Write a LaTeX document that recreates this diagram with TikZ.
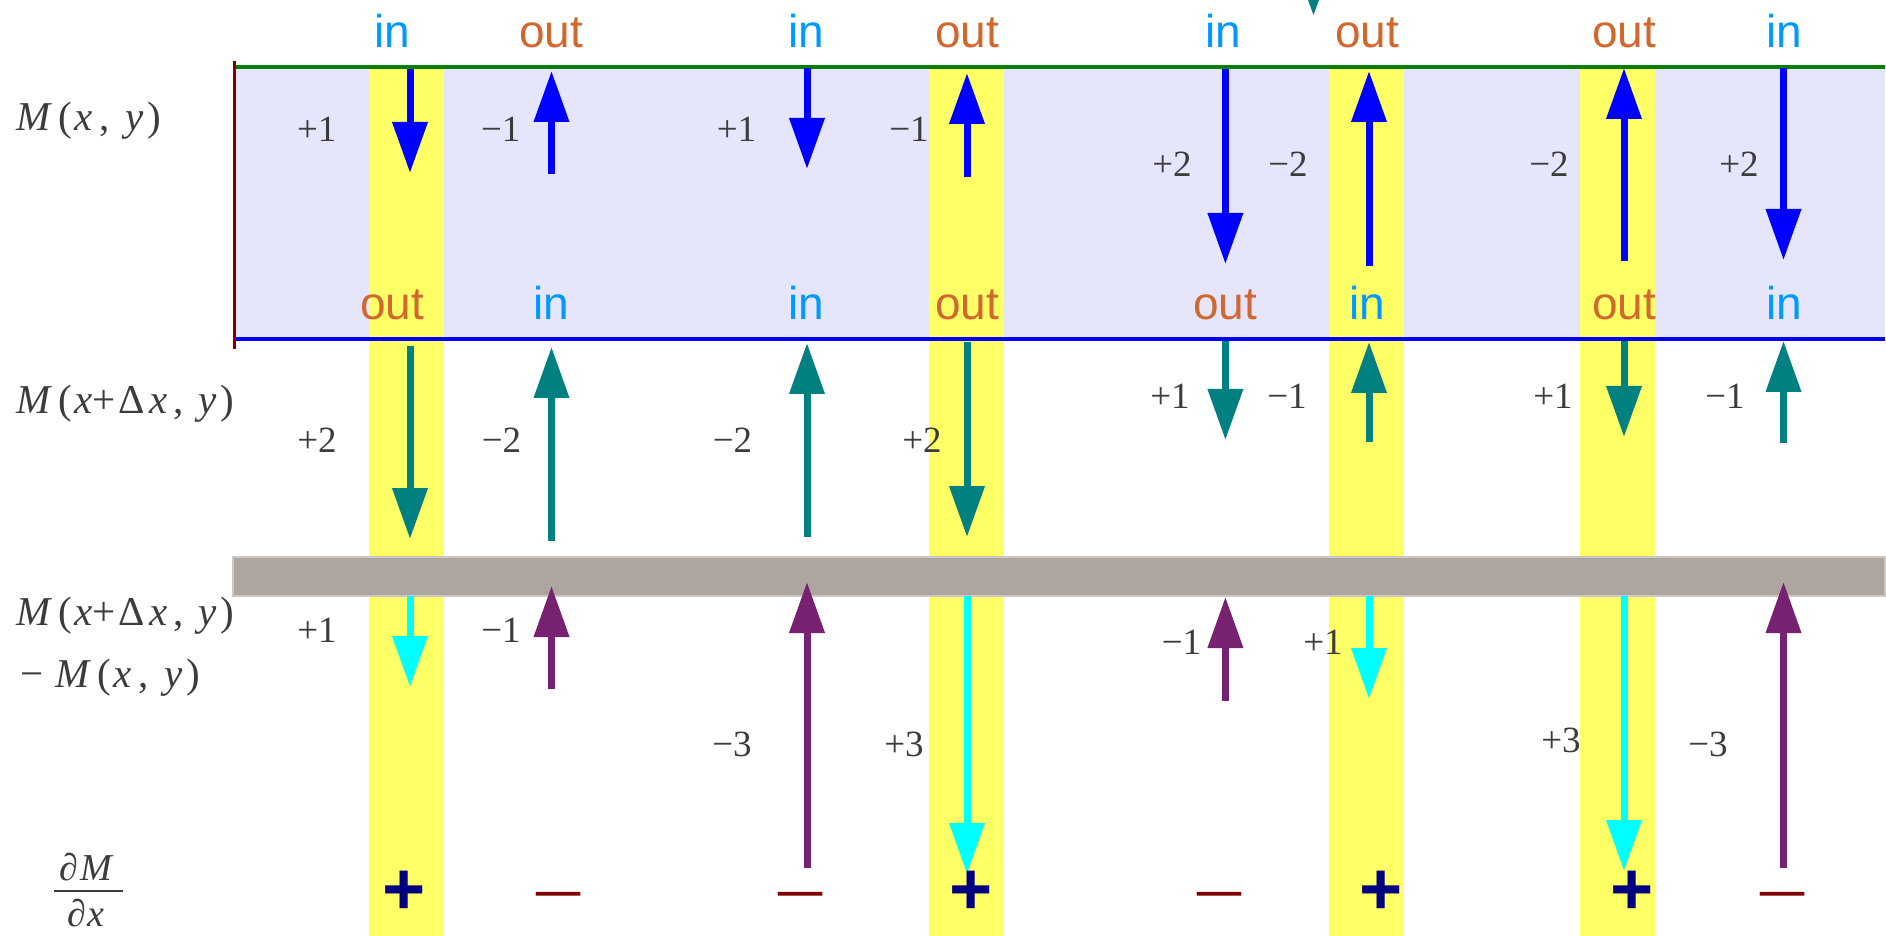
\documentclass[tikz,border=0pt]{standalone}
\usepackage{graphicx}
\usepackage{fontspec}
\setmainfont{Liberation Serif}
\newfontfamily\lsans{Liberation Sans}
\newfontfamily\lserif{Liberation Serif}
\usetikzlibrary{arrows.meta}
\definecolor{lav}{HTML}{E5E5FC}
\definecolor{yel}{HTML}{FFFF66}
\definecolor{inc}{HTML}{0099FF}
\definecolor{outc}{HTML}{D06830}
\definecolor{tealc}{HTML}{008080}
\definecolor{cyanc}{HTML}{00FFFF}
\definecolor{bluec}{HTML}{0000FF}
\definecolor{purp}{HTML}{772270}
\definecolor{grayband}{HTML}{ADA6A0}
\definecolor{grayedge}{HTML}{CDC8C3}
\definecolor{txt}{HTML}{3C3C3C}
\definecolor{navyc}{HTML}{000080}
\definecolor{maroonc}{HTML}{800000}
\definecolor{greenc}{HTML}{008000}
\begin{document}
\begin{tikzpicture}[x=0.5pt,y=-0.5pt,
  arr/.style={line width=3.5pt,-{Triangle[length=25.5pt,width=17pt]}},
  barr/.style={arr,color=bluec},
  tarr/.style={arr,color=tealc},
  carr/.style={arr,color=cyanc},
  parr/.style={arr,color=purp},
  inl/.style={inner sep=0pt,anchor=base,text=inc,font=\lsans\fontsize{23}{23}\selectfont},
  outl/.style={inner sep=0pt,anchor=base,text=outc,font=\lsans\fontsize{23}{23}\selectfont},
  num/.style={inner sep=0pt,text=txt,font=\lserif\fontsize{18.5}{18.5}\selectfont},
  lab/.style={inner sep=0pt,anchor=base west,text=txt,font=\lserif\fontsize{20.5}{20.5}\selectfont},
  fracl/.style={inner sep=0pt,anchor=base,text=txt,font=\lserif\fontsize{19}{19}\selectfont},
  plussign/.style={inner sep=0pt,text=navyc,font=\lsans\bfseries\fontsize{37}{37}\selectfont},
  minussign/.style={inner sep=0pt,anchor=base,text=maroonc,font=\lserif\fontsize{38}{38}\selectfont},
]
\useasboundingbox (0,0) rectangle (1886,936);
\fill[white] (0,0) rectangle (1886,936);
% lavender region
\fill[lav] (235,68) rectangle (1885,339);
% yellow bands
\foreach \a/\b in {369/444, 929/1004, 1329/1404, 1580/1654.5}
  \fill[yel] (\a,69) rectangle (\b,936);
% lines
\coordinate (gl) at (235,67.5); \coordinate (gr) at (1885,67.5);
\coordinate (bl) at (235,339.3); \coordinate (br) at (1885,339.3);
\coordinate (rt) at (234.4,61); \coordinate (rb) at (234.4,349);
\draw[greenc,line width=2pt] (gl) -- (gr);
\draw[bluec,line width=2pt] (bl) -- (br);
\draw[maroonc,line width=1.75pt] (rt) -- (rb);
% gray band
\fill[grayband,draw=grayedge,line width=0.6pt] (233,557) rectangle (1885,596);
% partial teal tip at top
\fill[tealc] (1308,0) -- (1319,0) -- (1313.5,15) -- cycle;

% ---- blue arrows (top band)
\coordinate (a1s) at (410,69);    \coordinate (a1e) at (410,173);
\coordinate (a2s) at (551.5,174); \coordinate (a2e) at (551.5,71);
\coordinate (a3s) at (807,68);    \coordinate (a3e) at (807,169);
\coordinate (a4s) at (967,177);   \coordinate (a4e) at (967,73);
\coordinate (a5s) at (1225.4,69); \coordinate (a5e) at (1225.4,264);
\coordinate (a6s) at (1369,266);  \coordinate (a6e) at (1369,71);
\coordinate (a7s) at (1624,261);  \coordinate (a7e) at (1624,68);
\coordinate (a8s) at (1783.5,68); \coordinate (a8e) at (1783.5,260);
\foreach \i in {1,...,8} \draw[barr] (a\i s) -- (a\i e);

% ---- teal arrows (middle)
\coordinate (b1s) at (410,346);    \coordinate (b1e) at (410,539);
\coordinate (b2s) at (551.5,541);  \coordinate (b2e) at (551.5,347);
\coordinate (b3s) at (807,537);    \coordinate (b3e) at (807,343);
\coordinate (b4s) at (967,342);    \coordinate (b4e) at (967,537);
\coordinate (b5s) at (1225.4,341); \coordinate (b5e) at (1225.4,440);
\coordinate (b6s) at (1369,442);   \coordinate (b6e) at (1369,342);
\coordinate (b7s) at (1624,341);   \coordinate (b7e) at (1624,437);
\coordinate (b8s) at (1783.5,443); \coordinate (b8e) at (1783.5,341);
\foreach \i in {1,...,8} \draw[tarr] (b\i s) -- (b\i e);

% ---- bottom arrows
\coordinate (c1s) at (410,596);    \coordinate (c1e) at (410,687);
\coordinate (c2s) at (551.5,689);  \coordinate (c2e) at (551.5,586);
\coordinate (c3s) at (807,868);    \coordinate (c3e) at (807,582);
\coordinate (c4s) at (967,596);    \coordinate (c4e) at (967,874);
\coordinate (c5s) at (1225.4,701); \coordinate (c5e) at (1225.4,597);
\coordinate (c6s) at (1369,596);   \coordinate (c6e) at (1369,699);
\coordinate (c7s) at (1624,596);   \coordinate (c7e) at (1624,871);
\coordinate (c8s) at (1783.5,868); \coordinate (c8e) at (1783.5,582);
\foreach \i in {1,4,6,7} \draw[carr] (c\i s) -- (c\i e);
\foreach \i in {2,3,5,8} \draw[parr] (c\i s) -- (c\i e);

% ---- in / out labels, top row
\node[inl]  (t1) at (392,48)  {in};
\node[outl] (t2) at (551,48)  {out};
\node[inl]  (t3) at (806,48)  {in};
\node[outl] (t4) at (967,48)  {out};
\node[inl]  (t5) at (1223,48) {in};
\node[outl] (t6) at (1367,48) {out};
\node[outl] (t7) at (1624,48) {out};
\node[inl]  (t8) at (1784,48) {in};
% second row
\node[outl] (u1) at (392,320)  {out};
\node[inl]  (u2) at (551,320)  {in};
\node[inl]  (u3) at (806,320)  {in};
\node[outl] (u4) at (967,320)  {out};
\node[outl] (u5) at (1225,320) {out};
\node[inl]  (u6) at (1367,320) {in};
\node[outl] (u7) at (1624,320) {out};
\node[inl]  (u8) at (1784,320) {in};

% ---- numbers
\node[num] (n11) at (316.7,129.5) {+1};
\node[num] (n12) at (500.7,129) {−1};
\node[num] (n13) at (736.5,129) {+1};
\node[num] (n14) at (909,129) {−1};
\node[num] (n15) at (1172,164) {+2};
\node[num] (n16) at (1288,164) {−2};
\node[num] (n17) at (1549,164) {−2};
\node[num] (n18) at (1739,164) {+2};

\node[num] (n21) at (317,440) {+2};
\node[num] (n22) at (501.5,440) {−2};
\node[num] (n23) at (732.5,440) {−2};
\node[num] (n24) at (922,440) {+2};
\node[num] (n25) at (1170,396) {+1};
\node[num] (n26) at (1287,396) {−1};
\node[num] (n27) at (1553,396) {+1};
\node[num] (n28) at (1725,396) {−1};

\node[num] (n31) at (317,630) {+1};
\node[num] (n32) at (501,630) {−1};
\node[num] (n33) at (732,744) {−3};
\node[num] (n34) at (904,744) {+3};
\node[num] (n35) at (1181.5,642) {−1};
\node[num] (n36) at (1323,642) {+1};
\node[num] (n37) at (1561,740) {+3};
\node[num] (n38) at (1708,744) {−3};

% ---- sign row
\node[plussign] (s1) at (404,893) {+};
\node[plussign] (s4) at (971,893) {+};
\node[plussign] (s6) at (1381,893) {+};
\node[plussign] (s7) at (1632,893) {+};
\node[minussign] (s2) at (558,919) {\scalebox{1.26}[1]{−}};
\node[minussign] (s3) at (800,919) {\scalebox{1.26}[1]{−}};
\node[minussign] (s5) at (1219,919) {\scalebox{1.26}[1]{−}};
\node[minussign] (s8) at (1782,919) {\scalebox{1.26}[1]{−}};

% ---- left labels
\node[lab] (l1) at (16,131) {\textit{M}\kern3pt(\kern1pt\textit{x}\kern3.5pt,\kern8pt\textit{y}\kern2pt)};
\node[lab] (l2) at (16,414) {\textit{M}\kern3pt(\kern1pt\textit{x}+\kern1.5ptΔ\kern2.5pt\textit{x}\kern3pt,\kern7pt\textit{y}\kern2pt)};
\node[lab] (l3) at (16,625) {\textit{M}\kern3pt(\kern1pt\textit{x}+\kern1.5ptΔ\kern2.5pt\textit{x}\kern3pt,\kern7pt\textit{y}\kern2pt)};
\node[lab] (l4) at (20,687) {−\kern6pt\textit{M}\kern3pt(\kern1pt\textit{x}\kern3.5pt,\kern8pt\textit{y}\kern2pt)};
\node[fracl] (fn) at (87,880) {\textit{∂}\kern1pt\textit{M}};
\node[fracl] (fd) at (86,926) {\textit{∂}\kern1pt\textit{x}};
\coordinate (fbl) at (54,891); \coordinate (fbr) at (123,891);
\draw[txt,line width=1.1pt] (fbl) -- (fbr);
\end{tikzpicture}
\end{document}
